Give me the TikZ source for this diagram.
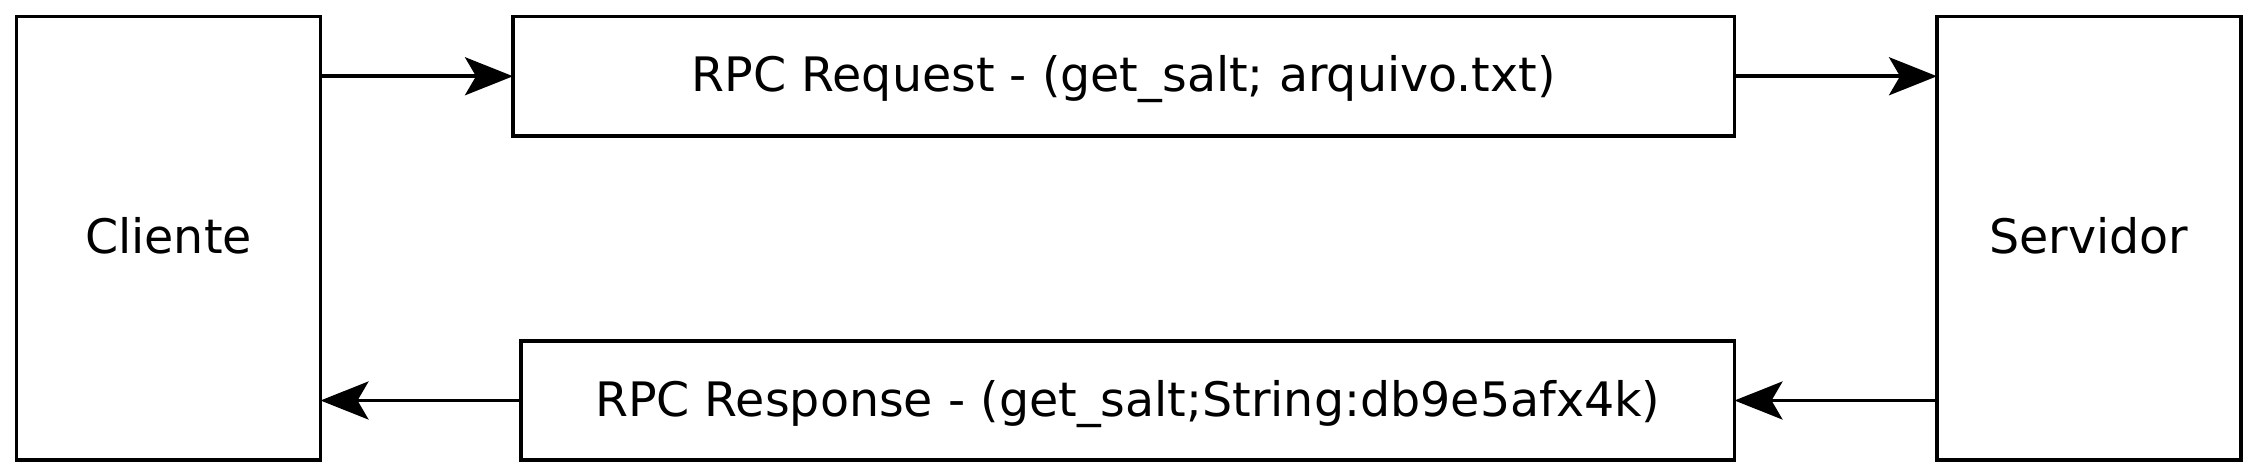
\documentclass[tikz,border=0pt]{standalone}
\usepackage{fontspec}
\setmainfont{DejaVu Sans}
\usetikzlibrary{arrows.meta}
\begin{document}
\begin{tikzpicture}[x=1pt,y=-1pt,
  box/.style={draw=black,line width=3.6pt,fill=white,inner sep=0pt,outer sep=0pt,
    text height=31pt,text depth=0pt,font=\fontsize{47.5}{56}\selectfont},
  conn/.style={line width=3.6pt,-{Stealth[length=48pt,width=38pt,inset=11pt]}}]
\useasboundingbox (0,0) rectangle (2256,476);
\node[box,minimum width=304pt,minimum height=443.5pt] (cli) at (168.5,238.25) {Cliente};
\node[box,minimum width=303.7pt,minimum height=443.5pt] (srv) at (2088.85,238.25) {Servidor};
\node[box,minimum width=1221.5pt,minimum height=119.5pt] (req) at (1123.75,76.25) {RPC Request - (get\_salt; arquivo.txt)};
\node[box,minimum width=1213.5pt,minimum height=119pt] (res) at (1127.75,400.5) {RPC Response - (get\_salt;String:db9e5afx4k)};
\draw[conn] (req.west -| cli.east) -- (req.west);
\draw[conn] (req.east) -- (req.east -| srv.west);
\draw[conn] (res.east -| srv.west) -- (res.east);
\draw[conn] (res.west) -- (res.west -| cli.east);
\end{tikzpicture}
\end{document}
